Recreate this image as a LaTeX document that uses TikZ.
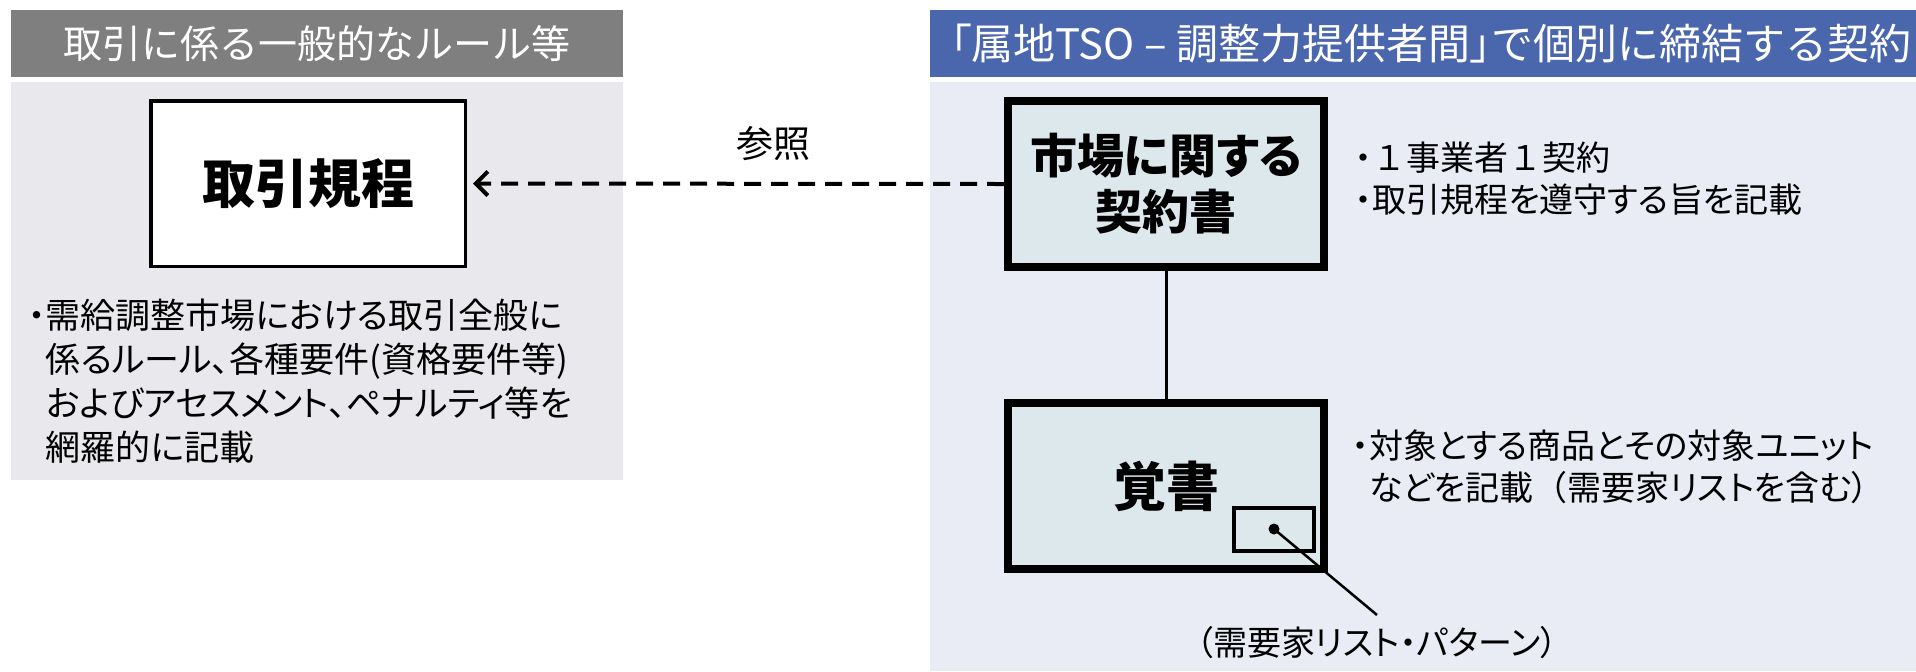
\documentclass[tikz,border=0pt]{standalone}
\usepackage{fontspec}
\newfontfamily\jp{Noto Sans CJK JP}[RawFeature=+palt]
\newfontfamily\jpf{Noto Sans CJK JP}
\usetikzlibrary{arrows.meta}
\definecolor{hdrgray}{HTML}{7F7F7F}
\definecolor{panelgray}{HTML}{E9E8EC}
\definecolor{hdrblue}{HTML}{4A66AC}
\definecolor{panelblue}{HTML}{E9ECF5}
\definecolor{boxfill}{HTML}{DDE8EC}
\begin{document}
\begin{tikzpicture}[x=0.5pt,y=-0.5pt,
  hdrtext/.style={text=white,inner sep=0pt,font=\jpf\fontsize{19.5}{23}\selectfont},
  body/.style={inner sep=0pt,align=left,font=\jp\fontsize{17.5}{22}\selectfont},
  bodyr/.style={inner sep=0pt,align=left,font=\jp\fontsize{17}{21}\selectfont},
  rulebox/.style={draw=black,line width=1.75pt,fill=white,minimum width=157.25pt,minimum height=82.75pt,inner sep=0pt,font=\jp\bfseries\fontsize{26.5}{30}\selectfont},
  contractbox/.style={draw=black,line width=4pt,fill=boxfill,minimum width=158pt,minimum height=83pt,inner sep=0pt,align=center},
  listbox/.style={draw=black,line width=2pt,minimum width=40pt,minimum height=21.5pt,inner sep=0pt},
  dotnode/.style={circle,fill=black,minimum width=5.5pt,minimum height=5.5pt,inner sep=0pt},
  refarrow/.style={dashed,dash pattern=on 8.5pt off 5pt,line width=2pt,-{Straight Barb[length=6pt,width=12pt]},shorten >=3pt},
  conn/.style={line width=1.5pt},
  leader/.style={line width=1.25pt}
]
\useasboundingbox (0,0) rectangle (1916,671);
% panels
\fill[hdrgray] (11,10) rectangle (623,77);
\fill[panelgray] (11,82) rectangle (623,480);
\fill[hdrblue] (930,10) rectangle (1916,77);
\fill[panelblue] (930,82) rectangle (1916,671);
% headers
\node[hdrtext] (hl) at (317,44) {取引に係る一般的なルール等};
\node[hdrtext,anchor=west,font=\jpf\fontsize{21}{25}\selectfont] (hr) at (950,44) {{\jp 「}属地TSO – 調整力提供者間{\jp 」}で個別に締結する契約};
% boxes
\node[rulebox] (kb) at (308,183.5) {取引規程};
\node[contractbox,font=\jp\bfseries\fontsize{23.5}{28}\selectfont] (b1) at (1166,184) {市場に関する\\契約書};
\node[contractbox,font=\jp\bfseries\fontsize{26.5}{30}\selectfont] (b2) at (1166,486) {覚書};
\node[listbox] (lst) at (1274,529.5) {};
\node[dotnode] (dot) at (1274,529) {};
% texts
\node[body,anchor=west] (tl) at (28,381) {・需給調整市場における取引全般に\\\phantom{・}係るルール、各種要件(資格要件等)\\\phantom{・}およびアセスメント、ペナルティ等を\\\phantom{・}網羅的に記載};
\node[bodyr,anchor=west] (t1) at (1355,179) {・{\jpf １}事業者{\jpf １}契約\\・取引規程を遵守する旨を記載};
\node[bodyr,anchor=west] (t2) at (1352,466.5) {・対象とする商品とその対象ユニット\\\phantom{・}などを記載{\jpf （}需要家リストを含む）};
\node[bodyr,anchor=north,inner sep=5.5pt] (lbl) at (1377,615) {（需要家リスト・パターン）};
% connectors
\draw[refarrow] (b1.west) -- node[pos=0.43,above=10.5pt,inner sep=0pt,font=\jp\fontsize{18.5}{22}\selectfont] (ref) {参照} (kb.east);
\draw[conn] (b1.south) -- (b2.north);
\draw[leader] (dot.center) -- (lbl.north);
\end{tikzpicture}
\end{document}
